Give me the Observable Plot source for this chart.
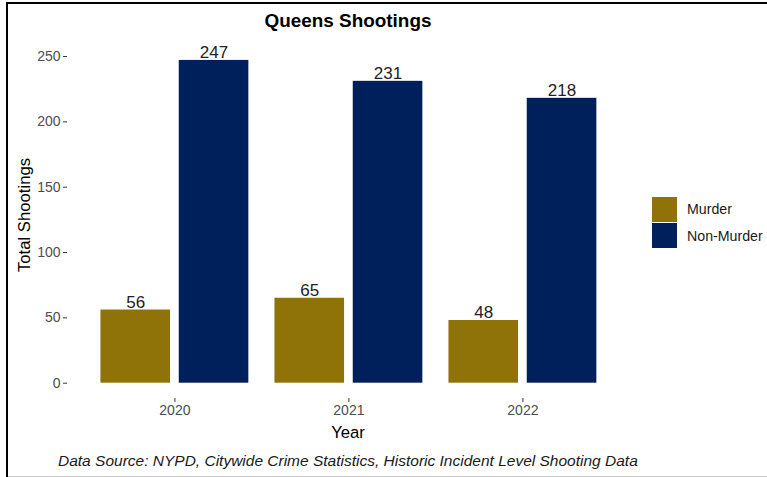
<!DOCTYPE html>
<html>
<head>
<meta charset="utf-8">
<script src="https://cdn.jsdelivr.net/npm/d3@7"></script>
<script src="https://cdn.jsdelivr.net/npm/@observablehq/plot@0.6"></script>
<style>
  html, body { margin: 0; padding: 0; background: #fff; }
  #wrap { position: relative; width: 767px; height: 477px; overflow: hidden; background: #fff;
          font-family: "Liberation Sans", Arial, sans-serif; }
  #frameL { position: absolute; left: 6px; top: 2px; width: 2px; height: 475px; background: #000; }
  #frameT { position: absolute; left: 6px; top: 2px; width: 761px; height: 2px; background: #000; }
  #frameB { position: absolute; left: 8px; top: 476px; width: 759px; height: 1px; background: #c8c8c8; }
  #chart { position: absolute; left: 0; top: 0; }
  .lbl { position: absolute; white-space: nowrap; color: #000; }
  #title { left: 348px; top: 20.5px; transform: translate(-50%, -50%); font-weight: bold; font-size: 18.9px; }
  #ytitle { left: 25px; top: 215px; transform: translate(-50%, -50%) rotate(-90deg); font-size: 16.7px; }
  #xtitle { left: 348px; top: 433px; transform: translate(-50%, -50%); font-size: 16.7px; }
  #caption { left: 58px; top: 461px; transform: translateY(-50%); font-style: italic; font-size: 15.5px; color: #1a1a1a; }
  #legend { position: absolute; left: 652px; top: 196px; }
  .item { display: flex; align-items: center; height: 26.5px; }
  .sw { width: 25px; height: 25px; margin-right: 10px; }
  .item span { font-size: 14.2px; color: #1a1a1a; }
</style>
</head>
<body>
<div id="wrap">
  <div id="chart"></div>
  <div id="frameL"></div><div id="frameT"></div><div id="frameB"></div>
  <div class="lbl" id="title">Queens Shootings</div>
  <div class="lbl" id="ytitle">Total Shootings</div>
  <div class="lbl" id="xtitle">Year</div>
  <div class="lbl" id="caption">Data Source: NYPD, Citywide Crime Statistics, Historic Incident Level Shooting Data</div>
  <div id="legend"></div>
</div>
<script>
// ---- data ----
const years = [2020, 2021, 2022];
const types = ["Murder", "Non-Murder"];
const murder = [56, 65, 48];
const nonMurder = [247, 231, 218];
const yTicks = [0, 50, 100, 150, 200, 250];
const colors = ["#8f7309", "#00205b"];

// long table built from the arrays
const rows = [];
years.forEach((yr, i) => {
  rows.push({year: yr, type: types[0], value: murder[i]});
  rows.push({year: yr, type: types[1], value: nonMurder[i]});
});

// ggplot-like dodge: width 0.8 bars, dodge width 0.9
const dodge = 0.9, barW = 0.4;
const offset = t => (types.indexOf(t) - 0.5) * dodge / 2;

const chart = Plot.plot({
  width: 767,
  height: 477,
  marginLeft: 70,
  marginRight: 140.2,
  marginTop: 40,
  marginBottom: 79,
  style: {fontFamily: "'Liberation Sans', Arial, sans-serif", background: "transparent"},
  x: {type: "linear", domain: [2019.4, 2022.6]},
  y: {domain: [0, 250], range: [382.7, 56]},
  color: {domain: types, range: colors},
  marks: [
    Plot.rectY(rows, {
      x1: d => d.year + offset(d.type) - barW / 2,
      x2: d => d.year + offset(d.type) + barW / 2,
      y: "value",
      fill: "type"
    }),
    Plot.text(rows, {
      x: d => d.year + offset(d.type),
      y: "value",
      text: d => String(d.value),
      lineAnchor: "bottom",
      dy: -2,
      fontSize: 17,
      fill: "#222"
    }),
    Plot.axisY({ticks: yTicks, tickSize: 4, tickPadding: 3, dx: -3, fontSize: 14, color: "#4d4d4d", stroke: "#333", label: null}),
    Plot.axisX({ticks: years, tickFormat: d => String(d), tickSize: 4, tickPadding: 3, fontSize: 14, color: "#4d4d4d", stroke: "#333", label: null})
  ]
});
document.getElementById("chart").appendChild(chart);

// legend
const leg = document.getElementById("legend");
types.forEach((t, i) => {
  const it = document.createElement("div");
  it.className = "item";
  const sw = document.createElement("div");
  sw.className = "sw";
  sw.style.background = colors[i];
  const sp = document.createElement("span");
  sp.textContent = t;
  it.appendChild(sw); it.appendChild(sp);
  leg.appendChild(it);
});
</script>
</body>
</html>
